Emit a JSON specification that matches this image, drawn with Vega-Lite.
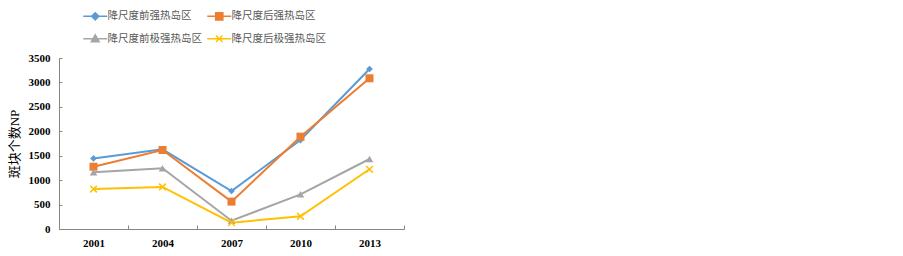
{
  "$schema": "https://vega.github.io/schema/vega-lite/v6.json",
  "width": 345,
  "height": 171,
  "autosize": {"type": "none"},
  "padding": {"left": 59, "top": 58, "right": 499, "bottom": 27},
  "background": "white",
  "config": {"view": {"stroke": null}},
  "data": {"values": [
    {"year": "2001", "series": "降尺度前强热岛区", "value": 1445},
    {"year": "2004", "series": "降尺度前强热岛区", "value": 1630},
    {"year": "2007", "series": "降尺度前强热岛区", "value": 778},
    {"year": "2010", "series": "降尺度前强热岛区", "value": 1821},
    {"year": "2013", "series": "降尺度前强热岛区", "value": 3275},
    {"year": "2001", "series": "降尺度后强热岛区", "value": 1275},
    {"year": "2004", "series": "降尺度后强热岛区", "value": 1617},
    {"year": "2007", "series": "降尺度后强热岛区", "value": 560},
    {"year": "2010", "series": "降尺度后强热岛区", "value": 1890},
    {"year": "2013", "series": "降尺度后强热岛区", "value": 3085},
    {"year": "2001", "series": "降尺度前极强热岛区", "value": 1160},
    {"year": "2004", "series": "降尺度前极强热岛区", "value": 1242},
    {"year": "2007", "series": "降尺度前极强热岛区", "value": 170},
    {"year": "2010", "series": "降尺度前极强热岛区", "value": 710},
    {"year": "2013", "series": "降尺度前极强热岛区", "value": 1433},
    {"year": "2001", "series": "降尺度后极强热岛区", "value": 818},
    {"year": "2004", "series": "降尺度后极强热岛区", "value": 860},
    {"year": "2007", "series": "降尺度后极强热岛区", "value": 130},
    {"year": "2010", "series": "降尺度后极强热岛区", "value": 260},
    {"year": "2013", "series": "降尺度后极强热岛区", "value": 1222}
  ]},
  "encoding": {
    "x": {
      "field": "year", "type": "ordinal",
      "scale": {"type": "band", "paddingInner": 0, "paddingOuter": 0},
      "axis": {
        "title": null, "labelAngle": 0, "tickBand": "extent", "tickSize": -4,
        "labelPadding": 12, "labelFont": "Liberation Serif", "labelFontWeight": "bold",
        "labelFontSize": 11, "labelColor": "#000000",
        "domainColor": "#868686", "tickColor": "#868686", "grid": false
      }
    },
    "y": {
      "field": "value", "type": "quantitative",
      "scale": {"domain": [0, 3500], "nice": false},
      "axis": {
        "title": "斑块个数NP", "values": [0, 500, 1000, 1500, 2000, 2500, 3000, 3500],
        "format": "d",
        "tickSize": -3, "labelPadding": 12, "labelFont": "Liberation Serif",
        "labelFontWeight": "bold", "labelFontSize": 11, "labelColor": "#000000",
        "titleFont": "Liberation Serif, Noto Sans CJK SC", "titleFontSize": 13,
        "titleFontWeight": "normal", "titleColor": "#000000", "titlePadding": 7,
        "domainColor": "#868686", "tickColor": "#868686", "grid": false
      }
    },
    "color": {
      "field": "series", "type": "nominal",
      "scale": {
        "domain": ["降尺度前强热岛区", "降尺度后强热岛区", "降尺度前极强热岛区", "降尺度后极强热岛区"],
        "range": ["#5b9bd5", "#ed7d31", "#a5a5a5", "#ffc000"]
      },
      "legend": {
        "title": null, "orient": "none", "legendX": 31, "legendY": -47,
        "direction": "horizontal", "columns": 2, "padding": 0,
        "symbolSize": 36, "labelOffset": 7, "columnPadding": 2, "rowPadding": 8.5,
        "labelFont": "Noto Sans CJK SC", "labelFontSize": 10.5, "labelColor": "#595959",
        "labelLimit": 200,
        "encode": {"symbols": {"update": {
          "shape": {"signal": "datum.value === '降尺度前强热岛区' ? 'M-4,0L4,0M0,-1.2L1.2,0L0,1.2L-1.2,0Z' : datum.value === '降尺度后强热岛区' ? 'M-4,0L4,0M-1.2,-1.2L1.2,-1.2L1.2,1.2L-1.2,1.2Z' : datum.value === '降尺度前极强热岛区' ? 'M-4,0L4,0M0,-1.3L1.3,1L-1.3,1Z' : 'M-4,0L4,0M-1.1,-1.1L1.1,1.1M1.1,-1.1L-1.1,1.1'"},
          "fill": {"signal": "scale('color', datum.value)"},
          "stroke": {"signal": "scale('color', datum.value)"},
          "strokeWidth": {"value": 1.5},
          "opacity": {"value": 1}
        }}}
      }
    }
  },
  "layer": [
    {"mark": {"type": "line", "strokeWidth": 2}},
    {
      "transform": [{"filter": "datum.series === '降尺度前强热岛区'"}],
      "mark": {"type": "point", "shape": "diamond", "filled": true, "opacity": 1, "size": 45}
    },
    {
      "transform": [{"filter": "datum.series === '降尺度后强热岛区'"}],
      "mark": {"type": "point", "shape": "square", "filled": true, "opacity": 1, "size": 64}
    },
    {
      "transform": [{"filter": "datum.series === '降尺度前极强热岛区'"}],
      "mark": {"type": "point", "shape": "triangle-up", "filled": true, "opacity": 1, "size": 55}
    },
    {
      "transform": [{"filter": "datum.series === '降尺度后极强热岛区'"}],
      "mark": {"type": "point", "shape": "M-1,-1L1,1M1,-1L-1,1", "filled": false, "opacity": 1, "size": 45, "strokeWidth": 1.5}
    }
  ]
}
